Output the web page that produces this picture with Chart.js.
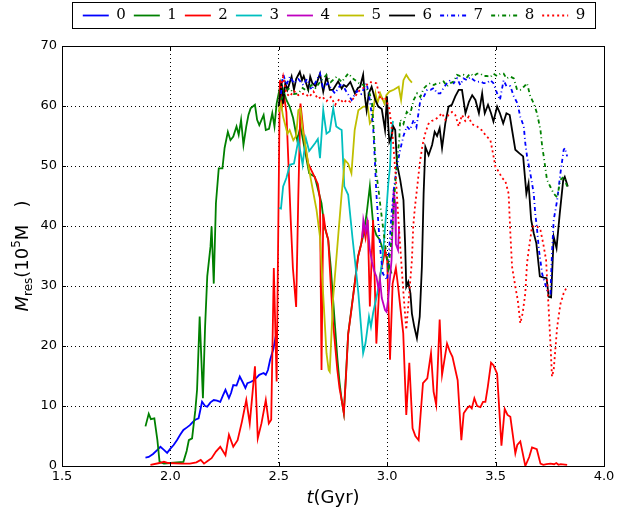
<!DOCTYPE html>
<html>
<head>
<meta charset="utf-8">
<script src="https://cdn.jsdelivr.net/npm/chart.js@4.4.0/dist/chart.umd.min.js"></script>
<style>
html, body { margin: 0; padding: 0; background: #fff; }
#wrap { width: 628px; height: 511px; }
</style>
</head>
<body>
<div id="wrap"><canvas id="graficoMres" width="628" height="511"></canvas></div>
<script>
// [t (Gyr), M_res (1e5 Msun)]
const s0 = [[1.885,1.4],[1.90,1.5],[1.92,2.0],[1.94,2.7],[1.954,3.2],[1.97,2.7],[1.985,2.2],[2.00,2.9],[2.015,3.5],[2.03,4.3],[2.045,5.2],[2.06,6.0],[2.075,6.4],[2.09,6.8],[2.105,7.4],[2.115,7.7],[2.13,7.95],[2.146,10.7],[2.16,10.0],[2.17,9.9],[2.185,10.6],[2.20,11.0],[2.215,10.9],[2.23,10.7],[2.243,11.8],[2.254,12.7],[2.27,11.3],[2.28,12.2],[2.29,13.5],[2.305,13.4],[2.32,14.9],[2.333,14.0],[2.346,13.0],[2.355,13.8],[2.37,14.0],[2.385,14.3],[2.40,14.8],[2.41,15.2],[2.43,15.5],[2.44,15.2],[2.45,16.0],[2.46,17.7],[2.475,19.5],[2.49,22.4]];

const s1 = [[1.885,6.6],[1.90,8.7],[1.91,7.8],[1.926,7.95],[1.94,4.3],[1.95,0.7],[1.97,0.4],[2.00,0.5],[2.03,0.6],[2.06,0.7],[2.075,2.5],[2.085,4.3],[2.10,4.6],[2.115,9.3],[2.123,12.7],[2.135,24.9],[2.15,11.3],[2.16,23.2],[2.17,31.6],[2.185,36.6],[2.19,39.9],[2.20,30.4],[2.21,43.8],[2.223,49.6],[2.24,49.6],[2.25,53.0],[2.265,55.7],[2.277,54.3],[2.29,54.9],[2.305,56.6],[2.315,55.2],[2.326,57.7],[2.337,53.5],[2.35,56.6],[2.36,58.5],[2.37,59.6],[2.39,60.2],[2.40,57.7],[2.41,56.8],[2.43,58.5],[2.44,56.0],[2.455,56.2],[2.47,58.8],[2.48,56.6],[2.49,60.4],[2.51,64.0],[2.52,62.7],[2.535,61.0],[2.55,59.9],[2.566,58.0],[2.585,54.3],[2.60,56.6],[2.62,52.7],[2.64,48.8],[2.666,48.2],[2.697,43.8],[2.71,40.0],[2.728,37.7],[2.74,33.0],[2.75,28.0],[2.76,23.0],[2.77,18.0],[2.78,14.0],[2.79,11.0],[2.80,8.8],[2.82,22.0],[2.85,30.4],[2.866,35.0],[2.88,37.0],[2.89,38.5],[2.905,42.0],[2.92,46.6],[2.936,40.0],[2.95,38.5],[2.966,37.7],[2.98,36.0],[2.997,34.9],[3.02,32.1]];

const s2 = [[1.908,0.2],[1.95,0.5],[1.97,0.7],[1.99,0.5],[2.05,0.4],[2.09,0.4],[2.12,0.6],[2.14,1.0],[2.155,0.4],[2.17,0.8],[2.19,1.3],[2.21,2.4],[2.23,3.2],[2.254,1.8],[2.27,5.2],[2.29,3.2],[2.31,4.3],[2.33,7.4],[2.35,11.0],[2.366,7.1],[2.39,16.6],[2.403,4.6],[2.42,7.1],[2.44,11.0],[2.454,7.1],[2.465,7.7],[2.477,33.0],[2.49,14.1],[2.505,64.3],[2.515,60.0],[2.525,61.5],[2.535,59.0],[2.545,50.0],[2.555,41.0],[2.565,33.0],[2.58,26.5],[2.59,45.0],[2.60,60.4],[2.61,57.0],[2.62,53.5],[2.635,50.5],[2.65,49.3],[2.665,48.2],[2.68,47.0],[2.69,44.5],[2.697,16.0],[2.705,42.0],[2.715,39.5],[2.728,37.7],[2.74,30.0],[2.75,24.0],[2.76,20.0],[2.77,16.0],[2.78,13.0],[2.79,11.0],[2.80,8.8],[2.81,15.0],[2.82,22.0],[2.835,26.0],[2.85,30.4],[2.866,34.9],[2.88,37.0],[2.89,39.9],[2.90,38.0],[2.91,41.0],[2.92,26.6],[2.935,41.0],[2.95,20.4],[2.966,31.6],[2.98,34.0],[2.99,36.0],[3.00,34.3],[3.013,17.7],[3.025,30.4],[3.04,33.0],[3.05,30.0],[3.06,26.6],[3.074,22.1],[3.088,8.5],[3.102,17.2],[3.117,6.3],[3.13,5.0],[3.145,4.3],[3.165,13.8],[3.185,14.6],[3.202,18.8],[3.214,12.4],[3.226,10.2],[3.242,24.4],[3.253,15.2],[3.276,20.4],[3.29,19.0],[3.301,18.2],[3.325,14.3],[3.342,4.3],[3.353,8.8],[3.368,9.6],[3.38,10.0],[3.39,9.6],[3.402,11.3],[3.415,10.0],[3.43,9.8],[3.442,10.7],[3.453,10.7],[3.464,13.2],[3.479,17.2],[3.49,16.8],[3.507,15.4],[3.527,3.4],[3.542,9.5],[3.555,8.5],[3.568,8.2],[3.591,2.1],[3.60,3.5],[3.614,4.1],[3.637,0.0],[3.655,1.5],[3.668,3.1],[3.69,2.8],[3.707,0.4],[3.72,0.2],[3.735,0.3],[3.753,0.4],[3.77,0.3],[3.78,0.5],[3.79,0.2],[3.80,0.3],[3.83,0.2]];

const s3 = [[2.50,43.0],[2.51,42.9],[2.52,46.6],[2.535,48.0],[2.551,50.2],[2.57,50.4],[2.59,54.3],[2.61,50.2],[2.615,51.8],[2.625,54.6],[2.64,52.5],[2.667,53.8],[2.68,54.5],[2.69,51.3],[2.705,59.3],[2.72,55.4],[2.735,55.8],[2.751,59.6],[2.765,56.6],[2.78,56.2],[2.79,56.0],[2.802,46.6],[2.82,45.2],[2.84,38.0],[2.855,33.0],[2.867,28.8],[2.889,18.8],[2.90,20.5],[2.916,24.9],[2.925,23.2],[2.935,25.5],[2.951,28.2],[2.966,31.0],[2.982,36.0],[2.995,42.0],[3.005,47.0],[3.013,49.9],[3.02,56.0],[3.027,57.5]];

const s4 = [[2.885,38.0],[2.89,41.0],[2.90,39.0],[2.909,40.7],[2.92,36.0],[2.93,34.0],[2.94,32.5],[2.95,31.6],[2.96,29.5],[2.967,31.0],[2.975,28.0],[2.99,26.0],[2.997,25.7],[3.005,28.0],[3.02,34.3],[3.03,46.0],[3.036,44.0],[3.04,37.0],[3.05,36.0],[3.055,40.0]];

const s5 = [[2.50,59.0],[2.505,59.9],[2.51,60.4],[2.52,58.2],[2.54,55.4],[2.55,56.0],[2.567,54.3],[2.58,55.0],[2.59,59.3],[2.60,59.6],[2.61,56.0],[2.625,53.0],[2.64,49.3],[2.657,46.0],[2.674,42.7],[2.69,38.2],[2.70,31.6],[2.72,18.8],[2.73,16.0],[2.735,15.7],[2.75,27.7],[2.775,38.8],[2.79,45.4],[2.805,51.0],[2.82,50.4],[2.835,48.8],[2.85,56.0],[2.867,59.3],[2.89,59.9],[2.91,59.9],[2.92,57.1],[2.93,57.7],[2.946,62.1],[2.955,60.5],[2.968,62.1],[2.987,60.4],[2.996,61.8],[3.01,62.4],[3.03,62.7],[3.053,63.2],[3.064,61.0],[3.075,64.3],[3.088,65.2],[3.10,64.5],[3.114,63.9]];

const s6 = [[2.50,60.0],[2.512,63.8],[2.52,60.4],[2.53,63.8],[2.54,62.7],[2.559,64.9],[2.57,62.7],[2.58,64.5],[2.597,65.7],[2.607,64.3],[2.615,65.0],[2.636,62.7],[2.645,64.9],[2.655,63.8],[2.67,63.3],[2.69,65.4],[2.705,62.4],[2.72,64.9],[2.735,62.7],[2.75,62.7],[2.774,64.1],[2.79,62.9],[2.80,63.5],[2.812,63.2],[2.83,64.0],[2.851,62.1],[2.865,63.0],[2.875,63.2],[2.889,65.2],[2.897,61.6],[2.905,59.3],[2.915,62.1],[2.928,63.2],[2.945,61.0],[2.959,59.9],[2.975,59.5],[2.99,56.0],[2.999,61.6],[3.005,56.6],[3.01,54.0],[3.02,54.9],[3.028,56.6],[3.037,56.0],[3.045,50.4],[3.06,47.7],[3.075,44.3],[3.083,36.6],[3.088,29.9],[3.097,30.7],[3.107,28.8],[3.114,25.4],[3.125,23.2],[3.137,21.3],[3.15,24.9],[3.16,33.2],[3.168,45.4],[3.176,53.2],[3.191,51.8],[3.207,53.5],[3.219,55.7],[3.23,55.0],[3.242,56.3],[3.253,53.0],[3.268,57.1],[3.283,59.9],[3.298,60.2],[3.314,61.6],[3.33,62.7],[3.345,62.7],[3.361,58.8],[3.377,60.7],[3.392,61.8],[3.407,61.0],[3.423,58.8],[3.438,62.1],[3.445,60.0],[3.45,58.8],[3.465,60.2],[3.479,58.8],[3.49,57.4],[3.507,59.9],[3.52,58.8],[3.535,57.1],[3.55,58.8],[3.565,58.5],[3.576,56.0],[3.591,52.7],[3.61,52.1],[3.627,51.6],[3.642,45.4],[3.652,47.1],[3.664,41.0],[3.676,38.8],[3.688,37.1],[3.704,31.6],[3.722,31.4],[3.735,31.3],[3.745,28.2],[3.756,28.1],[3.768,38.2],[3.781,36.3],[3.796,42.1],[3.812,47.7],[3.819,48.2],[3.833,46.6]];

const s7 = [[2.51,62.0],[2.52,65.4],[2.535,63.5],[2.551,64.9],[2.57,63.8],[2.59,64.5],[2.613,63.5],[2.63,64.5],[2.651,62.7],[2.67,64.0],[2.69,65.4],[2.705,62.8],[2.725,63.8],[2.74,63.0],[2.759,62.1],[2.775,63.0],[2.79,63.8],[2.81,62.5],[2.836,61.0],[2.86,62.5],[2.88,62.0],[2.905,63.8],[2.92,61.0],[2.935,56.6],[2.943,51.0],[2.95,45.4],[2.96,40.0],[2.97,35.4],[2.98,32.1],[2.99,31.5],[3.00,31.0],[3.01,36.6],[3.02,42.0],[3.03,46.0],[3.045,50.0],[3.06,52.7],[3.075,55.0],[3.091,56.6],[3.105,56.0],[3.122,57.7],[3.135,56.5],[3.153,61.0],[3.168,61.5],[3.184,62.7],[3.20,62.7],[3.215,63.0],[3.23,62.1],[3.245,62.1],[3.26,63.0],[3.276,63.8],[3.291,64.3],[3.307,63.8],[3.322,64.6],[3.337,63.5],[3.352,64.6],[3.368,64.3],[3.383,64.8],[3.40,64.3],[3.415,64.0],[3.43,64.1],[3.445,63.8],[3.46,63.8],[3.476,64.3],[3.49,63.8],[3.507,62.1],[3.52,61.0],[3.537,64.3],[3.55,63.3],[3.568,63.3],[3.584,61.6],[3.60,60.5],[3.614,58.2],[3.63,56.6],[3.637,53.8],[3.645,51.6],[3.66,48.8],[3.676,45.4],[3.683,42.0],[3.69,39.9],[3.70,36.0],[3.715,32.0],[3.737,29.3],[3.753,28.8],[3.76,35.4],[3.768,41.0],[3.784,44.3],[3.799,48.8],[3.814,52.7],[3.82,53.0],[3.83,51.6]];

const s8 = [[2.51,61.0],[2.53,62.5],[2.55,63.0],[2.57,62.0],[2.59,62.1],[2.61,63.0],[2.63,62.5],[2.65,63.5],[2.67,63.0],[2.69,64.0],[2.72,65.2],[2.74,64.0],[2.767,64.9],[2.79,64.0],[2.82,65.4],[2.845,64.5],[2.87,63.8],[2.89,63.5],[2.905,62.9],[2.92,62.0],[2.93,60.4],[2.935,57.7],[2.943,52.7],[2.95,48.8],[2.96,46.0],[2.967,43.8],[2.98,40.0],[2.99,37.1],[3.00,34.0],[3.005,33.0],[3.015,36.0],[3.025,40.0],[3.035,46.0],[3.045,51.0],[3.055,54.0],[3.06,57.7],[3.075,57.0],[3.09,59.0],[3.105,58.5],[3.122,61.0],[3.138,62.1],[3.153,61.5],[3.168,62.9],[3.184,63.5],[3.199,63.8],[3.215,63.5],[3.23,63.8],[3.245,63.8],[3.26,64.1],[3.276,63.3],[3.291,63.8],[3.307,64.1],[3.322,65.2],[3.337,65.0],[3.352,65.2],[3.368,64.8],[3.383,65.4],[3.40,65.0],[3.415,65.4],[3.43,65.4],[3.445,65.0],[3.46,65.0],[3.476,64.8],[3.49,65.4],[3.507,65.0],[3.522,65.4],[3.537,65.4],[3.55,64.6],[3.568,64.9],[3.584,64.6],[3.599,62.7],[3.614,62.7],[3.63,63.2],[3.645,63.8],[3.66,61.6],[3.675,60.5],[3.691,58.8],[3.707,56.0],[3.715,53.2],[3.722,51.6],[3.73,49.5],[3.737,47.7],[3.753,46.5],[3.768,45.4],[3.784,44.8],[3.799,47.7],[3.814,48.2],[3.83,46.6]];

const s9 = [[2.51,63.0],[2.52,64.9],[2.535,62.1],[2.55,61.6],[2.57,62.5],[2.59,61.8],[2.62,62.1],[2.64,61.5],[2.66,62.4],[2.68,61.2],[2.70,61.6],[2.72,60.8],[2.74,61.5],[2.76,60.2],[2.78,61.2],[2.80,60.5],[2.812,61.0],[2.83,60.7],[2.85,61.5],[2.87,62.5],[2.89,63.0],[2.92,64.0],[2.95,63.8],[2.97,61.0],[2.99,61.5],[3.01,59.5],[3.025,55.0],[3.04,48.0],[3.05,42.0],[3.06,36.6],[3.075,28.8],[3.088,22.7],[3.10,28.0],[3.114,34.3],[3.12,39.9],[3.128,43.2],[3.14,47.0],[3.15,50.4],[3.163,53.5],[3.176,55.5],[3.19,57.0],[3.205,57.5],[3.22,57.7],[3.237,58.2],[3.253,58.8],[3.268,57.7],[3.283,58.5],[3.299,59.0],[3.314,58.5],[3.33,56.6],[3.345,58.5],[3.36,57.5],[3.376,58.2],[3.39,57.0],[3.414,56.6],[3.435,56.0],[3.457,55.0],[3.476,54.3],[3.488,52.1],[3.499,49.9],[3.515,49.0],[3.53,48.0],[3.545,47.5],[3.56,45.4],[3.568,38.8],[3.576,33.2],[3.591,29.9],[3.602,27.7],[3.614,23.8],[3.625,25.5],[3.637,28.8],[3.645,33.8],[3.655,36.6],[3.668,39.9],[3.69,40.0],[3.707,39.3],[3.72,37.0],[3.733,34.3],[3.745,26.0],[3.753,20.4],[3.76,14.9],[3.768,16.0],[3.784,23.2],[3.799,27.0],[3.814,28.8],[3.825,29.6]];

const series = [s0, s1, s2, s3, s4, s5, s6, s7, s8, s9];
const etiquetas = ['0', '1', '2', '3', '4', '5', '6', '7', '8', '9'];
const colores = ['#0000ff', '#008000', '#ff0000', '#00bfbf', '#bf00bf', '#bfbf00', '#000000', '#0000ff', '#008000', '#ff0000'];
const trazos = [[], [], [], [], [], [], [], [4, 3, 1, 3], [4, 3, 1, 3], [2, 3]];

// recuadro, marcas hacia dentro, leyenda enmarcada y títulos de ejes
const marcoPlugin = {
    id: 'marco',
    beforeUpdate(chart) {
        const lg = chart.legend;
        if (lg && !lg._fijo) {
            const fit = lg.fit;
            lg.fit = function () { fit.call(this); this.height = 46; };
            lg._fijo = true;
        }
    },
    afterLayout(chart) {
        // la leyenda va algo desplazada a la derecha
        chart.legend.left += 32;
        chart.legend.right += 32;
    },
    afterDatasetsDraw(chart) {
        const {ctx, chartArea: a, scales: {x, y}} = chart;
        ctx.save();
        ctx.strokeStyle = '#000';
        ctx.lineWidth = 1;
        ctx.setLineDash([]);
        ctx.beginPath();
        x.ticks.forEach(t => {
            const px = Math.round(x.getPixelForValue(t.value)) + 0.5;
            ctx.moveTo(px, a.bottom); ctx.lineTo(px, a.bottom - 4);
            ctx.moveTo(px, a.top); ctx.lineTo(px, a.top + 4);
        });
        y.ticks.forEach(t => {
            const py = Math.round(y.getPixelForValue(t.value)) + 0.5;
            ctx.moveTo(a.left, py); ctx.lineTo(a.left + 4, py);
            ctx.moveTo(a.right, py); ctx.lineTo(a.right - 4, py);
        });
        ctx.stroke();
        ctx.strokeRect(Math.round(a.left) + 0.5, Math.round(a.top) + 0.5, Math.round(a.right - a.left), Math.round(a.bottom - a.top));
        ctx.restore();
    },
    afterDraw(chart) {
        const {ctx, chartArea: a} = chart;
        const cajas = chart.legend.legendHitBoxes;
        ctx.save();
        if (cajas && cajas.length) {
            const izq = Math.min(...cajas.map(c => c.left)) - 11;
            const der = Math.max(...cajas.map(c => c.left + c.width)) + 10;
            ctx.strokeStyle = '#000';
            ctx.lineWidth = 1;
            ctx.strokeRect(Math.round(izq) + 0.5, 2.5, Math.round(der - izq), 26);
        }
        ctx.fillStyle = '#000';
        ctx.textBaseline = 'alphabetic';
        // eje x: t(Gyr)
        const fx1 = 'italic 18px "DejaVu Sans"', fx2 = '18px "DejaVu Sans"';
        ctx.font = fx1; const w1 = ctx.measureText('t').width;
        ctx.font = fx2; const w2 = ctx.measureText('(Gyr)').width;
        let cx = (a.left + a.right) / 2 - (w1 + w2) / 2;
        ctx.font = fx1; ctx.fillText('t', cx, 503);
        ctx.font = fx2; ctx.fillText('(Gyr)', cx + w1, 503);
        // eje y: M_res(10^5 M )
        const partes = [
            {t: 'M', f: 'italic 18px "DejaVu Sans"', dy: 0},
            {t: 'res', f: '12px "DejaVu Sans"', dy: 4},
            {t: '(10', f: '18px "DejaVu Sans"', dy: 0},
            {t: '5', f: '12px "DejaVu Sans"', dy: -8},
            {t: 'M   )', f: '18px "DejaVu Sans"', dy: 0}
        ];
        let total = 0;
        partes.forEach(p => { ctx.font = p.f; p.w = ctx.measureText(p.t).width; total += p.w; });
        ctx.translate(28, (a.top + a.bottom) / 2);
        ctx.rotate(-Math.PI / 2);
        let px = -total / 2;
        partes.forEach(p => { ctx.font = p.f; ctx.fillText(p.t, px, p.dy); px += p.w; });
        ctx.restore();
    }
};

const ctx = document.getElementById('graficoMres').getContext('2d');
new Chart(ctx, {
    type: 'line',
    data: {
        datasets: series.map((s, i) => ({
            label: etiquetas[i],
            data: s.map(p => ({x: p[0], y: p[1]})),
            borderColor: colores[i],
            backgroundColor: colores[i],
            borderDash: trazos[i],
            borderWidth: 1.8,
            pointRadius: 0,
            tension: 0,
            fill: false,
            order: 9 - i
        }))
    },
    options: {
        responsive: false,
        animation: false,
        layout: {padding: {left: 0, right: 24, top: 0, bottom: 0}},
        scales: {
            x: {
                type: 'linear',
                min: 1.5,
                max: 4.0,
                afterFit(scale) { scale.height = 45; },
                ticks: {
                    stepSize: 0.5,
                    color: '#000',
                    padding: 3,
                    maxRotation: 0,
                    font: {family: 'DejaVu Sans', size: 13},
                    callback: v => v.toFixed(1)
                },
                grid: {color: '#000', lineWidth: 1, drawTicks: false},
                border: {display: true, color: '#000', width: 1, dash: [1, 3]}
            },
            y: {
                min: 0,
                max: 70,
                afterFit(scale) { scale.width = 62; },
                ticks: {
                    stepSize: 10,
                    color: '#000',
                    padding: 5,
                    font: {family: 'DejaVu Sans', size: 13}
                },
                grid: {color: '#000', lineWidth: 1, drawTicks: false},
                border: {display: true, color: '#000', width: 1, dash: [1, 3]}
            }
        },
        plugins: {
            legend: {
                position: 'top',
                labels: {
                    sort: (a, b) => a.datasetIndex - b.datasetIndex,
                    generateLabels(chart) {
                        const items = Chart.defaults.plugins.legend.labels.generateLabels(chart);
                        items.forEach(it => {
                            const ds = chart.data.datasets[it.datasetIndex];
                            it.lineDash = ds.borderDash;
                            it.lineWidth = ds.borderWidth;
                            it.strokeStyle = ds.borderColor;
                        });
                        return items;
                    },
                    usePointStyle: true,
                    pointStyle: 'line',
                    pointStyleWidth: 26,
                    padding: 8,
                    color: '#000',
                    font: {family: 'DejaVu Serif', size: 15}
                }
            },
            tooltip: {enabled: false}
        }
    },
    plugins: [marcoPlugin]
});
</script>
</body>
</html>
